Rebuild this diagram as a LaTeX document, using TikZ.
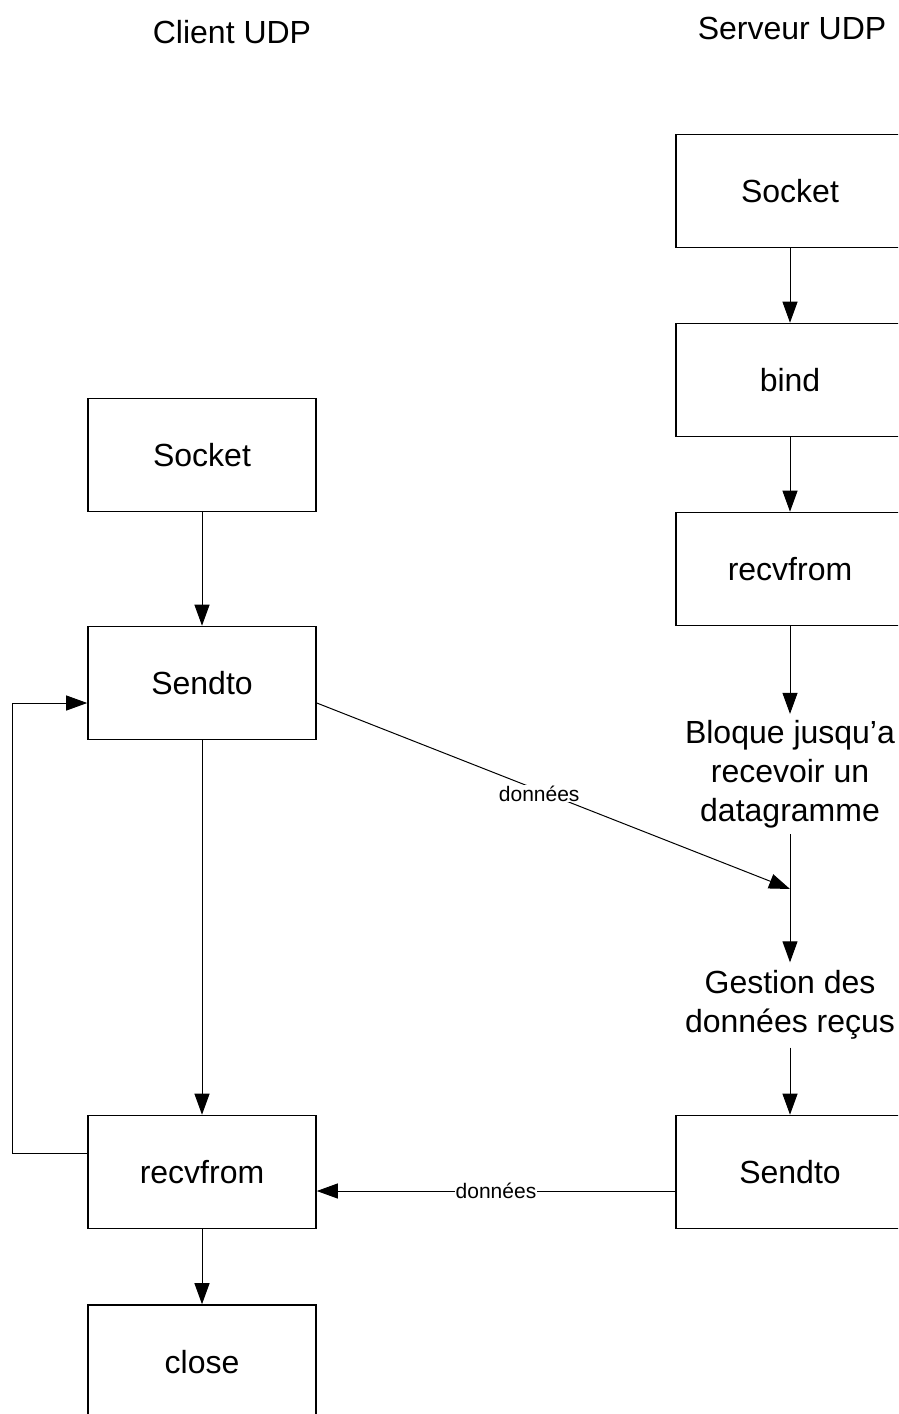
\documentclass[tikz,border=0pt]{standalone}
\usepackage{fontspec}
\setmainfont{Liberation Sans}
\usetikzlibrary{arrows.meta}
\begin{document}
\begin{tikzpicture}[x=1pt,y=-1pt,
  stepbox/.style={draw=black,line width=1.6pt,minimum width=228pt,minimum height=113pt,
    inner sep=0pt,font=\fontsize{32}{39}\selectfont},
  flowtext/.style={align=center,inner sep=0pt,font=\fontsize{32}{39}\selectfont},
  title/.style={font=\fontsize{32}{39}\selectfont},
  msg/.style={font=\fontsize{21}{25}\selectfont,fill=white,inner sep=1pt},
  conn/.style={draw=black,line width=1pt},
  arr/.style={conn,-{Triangle[length=21pt,width=15pt]}}]
\useasboundingbox (0,0) rectangle (898,1414);
\clip (0,0) rectangle (898,1414);

% column headings
\node[title] (tcli) at (232,32) {Client UDP};
\node[title] (tsrv) at (792,28) {Serveur UDP};

% client column
\node[stepbox] (cSock) at (202,455) {Socket};
\node[stepbox] (cSend) at (202,683) {Sendto};
\node[stepbox] (cRecv) at (202,1172) {recvfrom};
\node[stepbox,minimum height=114pt] (cClose) at (202,1362) {close};

% server column
\node[stepbox] (sSock) at (790,191) {Socket};
\node[stepbox] (sBind) at (790,380) {bind};
\node[stepbox] (sRecv) at (790,569) {recvfrom};
\node[flowtext] (sWait) at (790,774) {Bloque jusqu’a\\recevoir un\\datagramme};
\node[flowtext] (sProc) at (790,1005) {Gestion des\\données reçus};
\node[stepbox] (sSend) at (790,1172) {Sendto};
\coordinate (join) at (790,889);

% client flow
\draw[arr] (cSock.south) -- (cSend.north);
\draw[arr] (cSend.south) -- (cRecv.north);
\draw[arr] (cRecv.south) -- (cClose.north);
\draw[arr] ([yshift=19pt]cRecv.west) -- ++(-75,0) |- ([yshift=-20pt]cSend.west);

% server flow
\draw[arr] (sSock.south) -- (sBind.north);
\draw[arr] (sBind.south) -- (sRecv.north);
\draw[arr] (sRecv.south) -- ([yshift=6pt]sWait.north);
\draw[conn] ([yshift=-6pt]sWait.south) -- (join);
\draw[arr] (join) -- ([yshift=8pt]sProc.north);
\draw[arr] ([yshift=-8pt]sProc.south) -- (sSend.north);

% datagrams exchanged
\draw[arr] ([yshift=-20pt]cSend.east) -- node[msg,pos=0.47,yshift=-3pt] {données} (join);
\draw[arr] ([yshift=-19pt]sSend.west) -- node[msg,pos=0.5] {données} ([yshift=-19pt]cRecv.east);
\end{tikzpicture}
\end{document}
